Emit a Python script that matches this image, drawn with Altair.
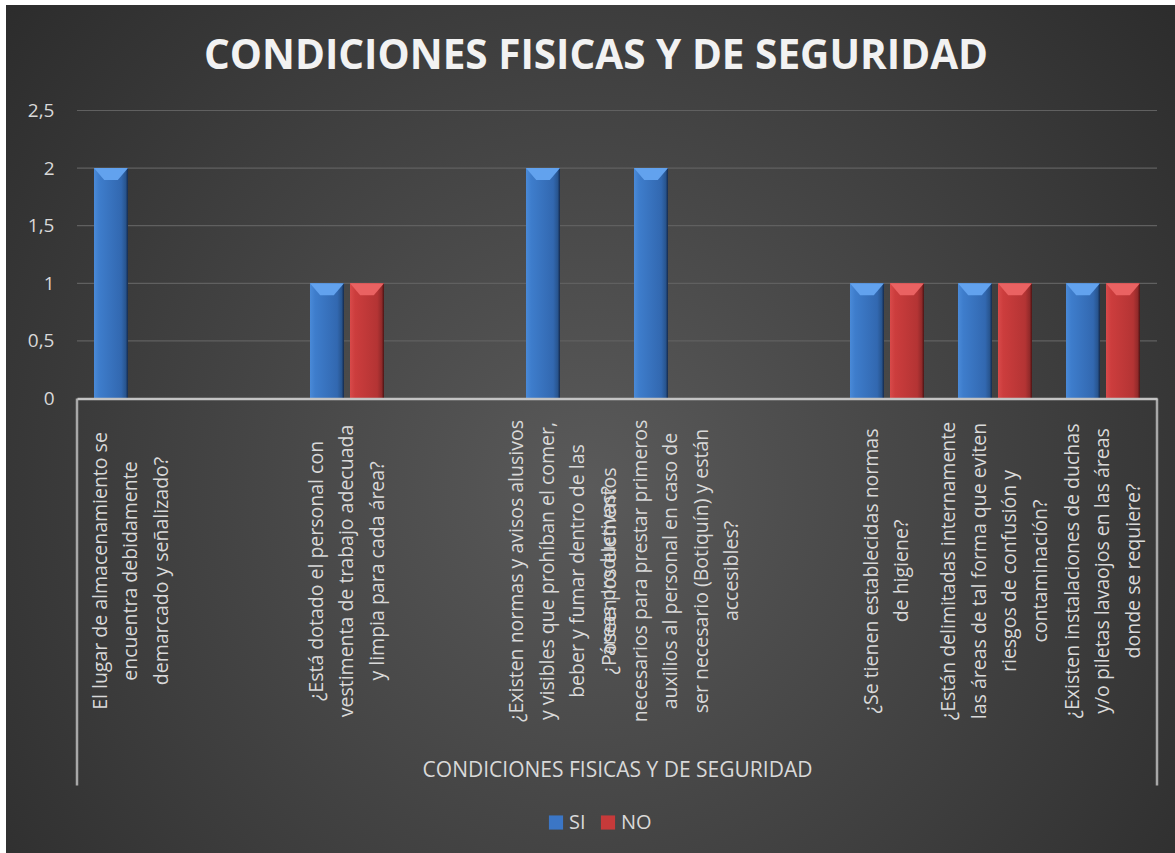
import altair as alt
import pandas as pd

TITLE = "CONDICIONES FISICAS Y DE SEGURIDAD"
AXIS_TITLE = "CONDICIONES FISICAS Y DE SEGURIDAD"
SERIES = ["SI", "NO"]

# category slots, left to right (empty slots are blank rows of the source sheet)
CATEGORY_LINES = [
    ["El lugar de almacenamiento se", "encuentra debidamente", "demarcado y señalizado?"],
    [],
    ["¿Está dotado el personal con", "vestimenta de trabajo adecuada", "y limpia para cada área?"],
    [],
    ["¿Existen normas y avisos alusivos", "y visibles que prohíban el comer,",
     "beber y fumar dentro de las", "áreas productivas?"],
    ["¿Poseen los elementos", "necesarios para prestar primeros", "auxilios al personal en caso de",
     "ser necesario (Botiquín) y están", "accesibles?"],
    [],
    ["¿Se tienen establecidas normas", "de higiene?"],
    ["¿Están delimitadas internamente", "las áreas de tal forma que eviten",
     "riesgos de confusión y", "contaminación?"],
    ["¿Existen instalaciones de duchas", "y/o piletas lavaojos en las áreas", "donde se requiere?"],
]
SI_VALUES = [2, None, 1, None, 2, 2, None, 1, 1, 1]
NO_VALUES = [0, None, 1, None, 0, 0, None, 1, 1, 1]
Y_TICKS = [0, 0.5, 1, 1.5, 2, 2.5]
GRID_TICKS = [0.5, 1, 1.5, 2, 2.5]

SLOTS = ["|".join(lines) if lines else " " * (i + 1) for i, lines in enumerate(CATEGORY_LINES)]

rows = []
for slot, si, no in zip(SLOTS, SI_VALUES, NO_VALUES):
    if si is not None:
        rows.append({"slot": slot, "serie": "SI", "value": si})
    if no is not None:
        rows.append({"slot": slot, "serie": "NO", "value": no})
df = pd.DataFrame(rows)

W, H = 1080, 288
LABEL_COLOR = "#d9d9d9"
LINE_H = 30.5

x_enc = alt.X(
    "slot:N",
    sort=SLOTS,
    scale=alt.Scale(domain=SLOTS, paddingInner=0.3148, paddingOuter=0.1574),
    axis=alt.Axis(
        title=AXIS_TITLE,
        labelExpr="split(datum.value, '|')",
        labelAngle=270,
        labelAlign="center",
        labelBaseline="middle",
        labelPadding=172,
        labelOffset=alt.ExprRef(f"-(length(split(datum.value, '|')) - 1) * {LINE_H / 2}"),
        ticks=False,
        labelLimit=600,
        labelOverlap=False,
        labelBound=False,
        labelFlush=False,
        labelFont="Open Sans",
        labelFontSize=19.5,
        labelLineHeight=LINE_H,
        labelColor=LABEL_COLOR,
        domainColor="#c4c4c4",
        domainWidth=2.5,
        grid=False,
        titleY=371.5,
        titleBaseline="middle",
        titleFont="Open Sans",
        titleFontSize=21,
        titleFontWeight="normal",
        titleColor=LABEL_COLOR,
        zindex=1,
    ),
)
xoff_enc = alt.XOffset("serie:N", sort=SERIES,
                       scale=alt.Scale(domain=SERIES, paddingInner=0.15, paddingOuter=0))
y_enc = alt.Y(
    "value:Q",
    scale=alt.Scale(domain=[0, 2.5], nice=False, zero=True),
    axis=alt.Axis(
        values=Y_TICKS,
        labelExpr="replace(toString(datum.value), '.', ',')",
        title=None,
        domain=False,
        ticks=False,
        grid=False,
        labelPadding=23,
        labelFont="Open Sans",
        labelFontSize=19,
        labelColor=LABEL_COLOR,
        zindex=1,
    ),
)

one = alt.Data(values=[{}])

background = alt.Chart(one).mark_rect(
    fill=alt.RadialGradient(
        gradient="radial", x1=0.5, y1=0.55, r1=0, x2=0.5, y2=0.55, r2=0.75,
        stops=[alt.GradientStop(offset=0, color="#5a5a5a"),
               alt.GradientStop(offset=1, color="#252525")],
    )
).encode(x=alt.value(-71), x2=alt.value(W + 18), y=alt.value(-105.5), y2=alt.value(H + 454.5))

grid = alt.Chart(pd.DataFrame({"value": GRID_TICKS})).mark_rule(
    color="#606060", strokeWidth=1.2
).encode(y=y_enc)

blue_grad = alt.LinearGradient(
    gradient="linear", x1=0, x2=1, y1=0, y2=0,
    stops=[alt.GradientStop(offset=0, color="#4a8ad8"),
           alt.GradientStop(offset=0.15, color="#3e7dcc"),
           alt.GradientStop(offset=0.8, color="#3268b0"),
           alt.GradientStop(offset=0.93, color="#28558f"),
           alt.GradientStop(offset=1, color="#15294a")],
)
red_grad = alt.LinearGradient(
    gradient="linear", x1=0, x2=1, y1=0, y2=0,
    stops=[alt.GradientStop(offset=0, color="#d84a4a"),
           alt.GradientStop(offset=0.15, color="#cc3d3d"),
           alt.GradientStop(offset=0.8, color="#b43434"),
           alt.GradientStop(offset=0.93, color="#922a2a"),
           alt.GradientStop(offset=1, color="#4a1414")],
)

base = alt.Chart(df)

bars_si = base.transform_filter(alt.datum.serie == "SI").mark_bar(
    fill=blue_grad, strokeWidth=0
).encode(x=x_enc, xOffset=xoff_enc, y=y_enc)
bars_no = base.transform_filter(alt.datum.serie == "NO").mark_bar(
    fill=red_grad, strokeWidth=0
).encode(x=x_enc, xOffset=xoff_enc, y=y_enc)

BEVEL = "M-1,-1L1,-1L0.4,-0.3L-0.4,-0.3Z"
bevel_si = base.transform_filter((alt.datum.serie == "SI") & (alt.datum.value > 0)).mark_point(
    shape=BEVEL, filled=True, fill="#62a2ee", size=1156, opacity=1, strokeWidth=0, yOffset=17
).encode(x=x_enc, xOffset=xoff_enc, y=y_enc)
bevel_no = base.transform_filter((alt.datum.serie == "NO") & (alt.datum.value > 0)).mark_point(
    shape=BEVEL, filled=True, fill="#ea6262", size=1156, opacity=1, strokeWidth=0, yOffset=17
).encode(x=x_enc, xOffset=xoff_enc, y=y_enc)

legend_layer = base.mark_square(opacity=0, size=10).encode(
    x=x_enc, xOffset=xoff_enc, y=y_enc,
    color=alt.Color(
        "serie:N", sort=SERIES,
        scale=alt.Scale(domain=SERIES, range=["#3b76c6", "#c63a3a"]),
        legend=alt.Legend(
            title=None, orient="none", legendX=469, legendY=702, direction="horizontal",
            symbolType="square", symbolSize=200, symbolOpacity=1, symbolStrokeWidth=0,
            labelFont="Open Sans", labelFontSize=20, labelColor=LABEL_COLOR,
            labelOffset=3, columnPadding=12, padding=0,
        ),
    ),
)

frame_left = alt.Chart(one).mark_rule(color="#a8a8a8", strokeWidth=2.5).encode(
    x=alt.value(0), y=alt.value(H), y2=alt.value(H + 387))
frame_right = alt.Chart(one).mark_rule(color="#a8a8a8", strokeWidth=2.5).encode(
    x=alt.value(W), y=alt.value(H), y2=alt.value(H + 387))

chart = alt.layer(
    background, grid, bars_si, bars_no, bevel_si, bevel_no, legend_layer, frame_left, frame_right
).properties(
    width=W, height=H,
    title=alt.TitleParams(
        TITLE, font="Open Sans", fontSize=40.5, fontWeight="bold", color="#f2f2f2",
        anchor="middle", frame="group", dx=-21, offset=-72.5,
    ),
    autosize=alt.AutoSizeParams(type="none"),
    padding={"left": 77, "top": 110.5, "right": 18, "bottom": 454.5},
).configure(background="white").configure_view(strokeWidth=0)

chart.save("out.html", embed_options={"renderer": "svg", "actions": False})
